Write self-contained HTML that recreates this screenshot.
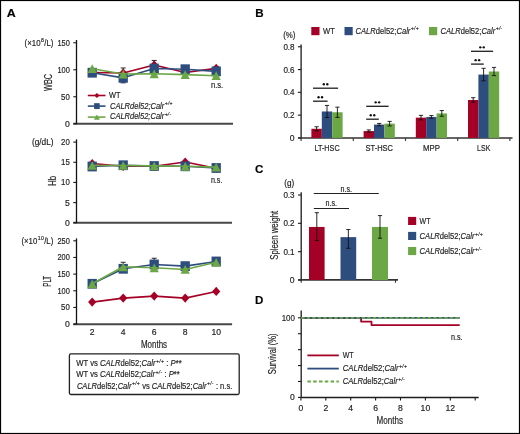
<!DOCTYPE html><html><head><meta charset="utf-8"><style>html,body{margin:0;padding:0;background:#fff}svg{display:block;will-change:transform}text{font-family:"Liberation Sans",sans-serif;stroke:#2a2a2a;stroke-width:0.18px}</style></head><body>
<svg width="520" height="434" viewBox="0 0 520 434">
<rect x="0.00" y="0.00" width="520.00" height="434.00" fill="#fff"/>
<rect x="0.5" y="0.5" width="519" height="433" fill="none" stroke="#000" stroke-width="1.2"/>
<text x="6.8" y="16.8" font-size="11.6" text-anchor="start" font-weight="bold" font-style="normal" fill="#000" textLength="9.0" lengthAdjust="spacingAndGlyphs">A</text>
<text x="255.3" y="16.7" font-size="11.6" text-anchor="start" font-weight="bold" font-style="normal" fill="#000">B</text>
<text x="255.0" y="172.6" font-size="11.6" text-anchor="start" font-weight="bold" font-style="normal" fill="#000">C</text>
<text x="255.0" y="303.8" font-size="11.6" text-anchor="start" font-weight="bold" font-style="normal" fill="#000">D</text>
<line x1="73.3" y1="123.85" x2="233" y2="123.85" stroke="#474747" stroke-width="2.0"/>
<line x1="76.5" y1="40.0" x2="76.5" y2="124.05" stroke="#111" stroke-width="1.3"/>
<line x1="73.3" y1="42.75" x2="76.5" y2="42.75" stroke="#1a1a1a" stroke-width="1.1"/>
<text x="69.8" y="45.75" font-size="8.6" text-anchor="end" font-weight="normal" font-style="normal" fill="#222" textLength="12.4" lengthAdjust="spacingAndGlyphs">150</text>
<line x1="73.3" y1="69.75" x2="76.5" y2="69.75" stroke="#1a1a1a" stroke-width="1.1"/>
<text x="69.8" y="72.75" font-size="8.6" text-anchor="end" font-weight="normal" font-style="normal" fill="#222" textLength="12.4" lengthAdjust="spacingAndGlyphs">100</text>
<line x1="73.3" y1="96.75" x2="76.5" y2="96.75" stroke="#1a1a1a" stroke-width="1.1"/>
<text x="69.8" y="99.75" font-size="8.6" text-anchor="end" font-weight="normal" font-style="normal" fill="#222" textLength="8.7" lengthAdjust="spacingAndGlyphs">50</text>
<line x1="73.3" y1="123.75" x2="76.5" y2="123.75" stroke="#1a1a1a" stroke-width="1.1"/>
<text x="69.8" y="126.75" font-size="8.6" text-anchor="end" font-weight="normal" font-style="normal" fill="#222">0</text>
<text x="24.6" y="45.5" font-size="8.6" text-anchor="start" fill="#222" textLength="28.8" lengthAdjust="spacingAndGlyphs"><tspan font-style="normal">(×10</tspan><tspan font-style="normal" font-size="5.68" dx="0.5" dy="-3.44" letter-spacing="0.35">8</tspan><tspan font-style="normal" dy="3.44">/L)</tspan></text>
<text x="51.55" y="82.4" font-size="10.2" text-anchor="middle" font-weight="normal" font-style="normal" fill="#222" textLength="17" lengthAdjust="spacingAndGlyphs" transform="rotate(-90 51.55 82.4)">WBC</text>
<polyline points="92.20,72.45 123.20,72.99 154.20,65.05 185.20,72.45 216.20,68.40" fill="none" stroke="#A50026" stroke-width="1.6" stroke-linejoin="round"/>
<line x1="123.2" y1="67.99" x2="123.2" y2="74.99" stroke="#111" stroke-width="0.9"/>
<line x1="120.7" y1="67.99" x2="125.7" y2="67.99" stroke="#111" stroke-width="0.9"/>
<line x1="120.7" y1="74.99" x2="125.7" y2="74.99" stroke="#111" stroke-width="0.9"/>
<line x1="154.2" y1="60.45199999999999" x2="154.2" y2="67.05199999999999" stroke="#111" stroke-width="0.9"/>
<line x1="151.7" y1="60.45199999999999" x2="156.7" y2="60.45199999999999" stroke="#111" stroke-width="0.9"/>
<line x1="151.7" y1="67.05199999999999" x2="156.7" y2="67.05199999999999" stroke="#111" stroke-width="0.9"/>
<line x1="216.2" y1="66.4" x2="216.2" y2="70.4" stroke="#111" stroke-width="0.9"/>
<line x1="213.7" y1="66.4" x2="218.7" y2="66.4" stroke="#111" stroke-width="0.9"/>
<line x1="213.7" y1="70.4" x2="218.7" y2="70.4" stroke="#111" stroke-width="0.9"/>
<polygon points="92.20,67.85 96.30,72.45 92.20,77.05 88.10,72.45" fill="#A50026"/>
<polygon points="123.20,68.39 127.30,72.99 123.20,77.59 119.10,72.99" fill="#A50026"/>
<polygon points="154.20,60.45 158.30,65.05 154.20,69.65 150.10,65.05" fill="#A50026"/>
<polygon points="185.20,67.85 189.30,72.45 185.20,77.05 181.10,72.45" fill="#A50026"/>
<polygon points="216.20,63.80 220.30,68.40 216.20,73.00 212.10,68.40" fill="#A50026"/>
<polyline points="92.20,72.72 123.20,77.85 154.20,68.51 185.20,69.21 216.20,71.37" fill="none" stroke="#2E4D7F" stroke-width="1.6" stroke-linejoin="round"/>
<line x1="123.2" y1="75.85" x2="123.2" y2="82.85" stroke="#111" stroke-width="0.9"/>
<line x1="120.7" y1="75.85" x2="125.7" y2="75.85" stroke="#111" stroke-width="0.9"/>
<line x1="120.7" y1="82.85" x2="125.7" y2="82.85" stroke="#111" stroke-width="0.9"/>
<rect x="87.55" y="67.84" width="9.30" height="9.77" fill="#2E4D7F"/>
<rect x="118.55" y="72.97" width="9.30" height="9.77" fill="#2E4D7F"/>
<rect x="149.55" y="63.63" width="9.30" height="9.77" fill="#2E4D7F"/>
<rect x="180.55" y="64.33" width="9.30" height="9.77" fill="#2E4D7F"/>
<rect x="211.55" y="66.49" width="9.30" height="9.77" fill="#2E4D7F"/>
<polyline points="92.20,68.67 123.20,74.07 154.20,73.80 185.20,74.61 216.20,75.69" fill="none" stroke="#6CA745" stroke-width="1.6" stroke-linejoin="round"/>
<polygon points="87.60,73.02 96.80,73.02 92.20,64.32" fill="#6CA745"/>
<polygon points="118.60,78.42 127.80,78.42 123.20,69.72" fill="#6CA745"/>
<polygon points="149.60,78.15 158.80,78.15 154.20,69.45" fill="#6CA745"/>
<polygon points="180.60,78.96 189.80,78.96 185.20,70.26" fill="#6CA745"/>
<polygon points="211.60,80.04 220.80,80.04 216.20,71.34" fill="#6CA745"/>
<line x1="87.8" y1="95.5" x2="105.5" y2="95.5" stroke="#A50026" stroke-width="1.6"/>
<polygon points="96.90,92.90 99.50,95.50 96.90,98.10 94.30,95.50" fill="#A50026"/>
<line x1="87.8" y1="106.1" x2="105.5" y2="106.1" stroke="#2E4D7F" stroke-width="1.6"/>
<rect x="94.10" y="103.16" width="5.60" height="5.88" fill="#2E4D7F"/>
<line x1="87.8" y1="117.1" x2="105.5" y2="117.1" stroke="#6CA745" stroke-width="1.6"/>
<polygon points="93.90,119.70 99.90,119.70 96.90,114.50" fill="#6CA745"/>
<text x="109" y="98.2" font-size="8.6" text-anchor="start" font-weight="normal" font-style="normal" fill="#222" textLength="11.5" lengthAdjust="spacingAndGlyphs">WT</text>
<text x="110" y="108.6" font-size="8.6" text-anchor="start" fill="#222" textLength="62.8" lengthAdjust="spacingAndGlyphs"><tspan font-style="italic">CALRdel52;Calr</tspan><tspan font-style="italic" font-size="5.68" dx="0.5" dy="-3.44" letter-spacing="0.35">+/+</tspan></text>
<text x="110" y="119.0" font-size="8.6" text-anchor="start" fill="#222" textLength="61.5" lengthAdjust="spacingAndGlyphs"><tspan font-style="italic">CALRdel52;Calr</tspan><tspan font-style="italic" font-size="5.68" dx="0.5" dy="-3.44" letter-spacing="0.35">+/-</tspan></text>
<text x="210.9" y="88.2" font-size="8.6" text-anchor="start" font-weight="normal" font-style="normal" fill="#222" textLength="12.3" lengthAdjust="spacingAndGlyphs">n.s.</text>
<line x1="73.3" y1="222.85" x2="232" y2="222.85" stroke="#474747" stroke-width="2.0"/>
<line x1="76.5" y1="139.4" x2="76.5" y2="223.05" stroke="#111" stroke-width="1.3"/>
<line x1="73.3" y1="142.11" x2="76.5" y2="142.11" stroke="#1a1a1a" stroke-width="1.1"/>
<text x="69.8" y="145.11" font-size="8.6" text-anchor="end" font-weight="normal" font-style="normal" fill="#222" textLength="8.7" lengthAdjust="spacingAndGlyphs">20</text>
<line x1="73.3" y1="162.26999999999998" x2="76.5" y2="162.26999999999998" stroke="#1a1a1a" stroke-width="1.1"/>
<text x="69.8" y="165.26999999999998" font-size="8.6" text-anchor="end" font-weight="normal" font-style="normal" fill="#222" textLength="8.7" lengthAdjust="spacingAndGlyphs">15</text>
<line x1="73.3" y1="182.43" x2="76.5" y2="182.43" stroke="#1a1a1a" stroke-width="1.1"/>
<text x="69.8" y="185.43" font-size="8.6" text-anchor="end" font-weight="normal" font-style="normal" fill="#222" textLength="8.7" lengthAdjust="spacingAndGlyphs">10</text>
<line x1="73.3" y1="202.59" x2="76.5" y2="202.59" stroke="#1a1a1a" stroke-width="1.1"/>
<text x="69.8" y="205.59" font-size="8.6" text-anchor="end" font-weight="normal" font-style="normal" fill="#222">5</text>
<line x1="73.3" y1="222.75" x2="76.5" y2="222.75" stroke="#1a1a1a" stroke-width="1.1"/>
<text x="69.8" y="225.75" font-size="8.6" text-anchor="end" font-weight="normal" font-style="normal" fill="#222">0</text>
<text x="31.9" y="144.9" font-size="8.6" text-anchor="start" font-weight="normal" font-style="normal" fill="#222" textLength="21.6" lengthAdjust="spacingAndGlyphs">(g/dL)</text>
<text x="55.8" y="180.9" font-size="10.2" text-anchor="middle" font-weight="normal" font-style="normal" fill="#222" textLength="9.7" lengthAdjust="spacingAndGlyphs" transform="rotate(-90 55.8 180.9)">Hb</text>
<polyline points="92.20,163.48 123.20,166.30 154.20,166.30 185.20,162.03 216.20,168.32" fill="none" stroke="#A50026" stroke-width="1.6" stroke-linejoin="round"/>
<line x1="123.2" y1="165.802" x2="123.2" y2="168.802" stroke="#111" stroke-width="0.9"/>
<line x1="120.7" y1="165.802" x2="125.7" y2="165.802" stroke="#111" stroke-width="0.9"/>
<line x1="120.7" y1="168.802" x2="125.7" y2="168.802" stroke="#111" stroke-width="0.9"/>
<line x1="216.2" y1="168.31799999999998" x2="216.2" y2="171.31799999999998" stroke="#111" stroke-width="0.9"/>
<line x1="213.7" y1="168.31799999999998" x2="218.7" y2="168.31799999999998" stroke="#111" stroke-width="0.9"/>
<line x1="213.7" y1="171.31799999999998" x2="218.7" y2="171.31799999999998" stroke="#111" stroke-width="0.9"/>
<polygon points="92.20,158.88 96.30,163.48 92.20,168.08 88.10,163.48" fill="#A50026"/>
<polygon points="123.20,161.70 127.30,166.30 123.20,170.90 119.10,166.30" fill="#A50026"/>
<polygon points="154.20,161.70 158.30,166.30 154.20,170.90 150.10,166.30" fill="#A50026"/>
<polygon points="185.20,157.43 189.30,162.03 185.20,166.63 181.10,162.03" fill="#A50026"/>
<polygon points="216.20,163.72 220.30,168.32 216.20,172.92 212.10,168.32" fill="#A50026"/>
<polyline points="92.20,166.50 123.20,165.25 154.20,166.02 185.20,166.30 216.20,168.00" fill="none" stroke="#2E4D7F" stroke-width="1.6" stroke-linejoin="round"/>
<rect x="87.55" y="161.62" width="9.30" height="9.77" fill="#2E4D7F"/>
<rect x="118.55" y="160.37" width="9.30" height="9.77" fill="#2E4D7F"/>
<rect x="149.55" y="161.14" width="9.30" height="9.77" fill="#2E4D7F"/>
<rect x="180.55" y="161.42" width="9.30" height="9.77" fill="#2E4D7F"/>
<rect x="211.55" y="163.11" width="9.30" height="9.77" fill="#2E4D7F"/>
<polyline points="92.20,165.50 123.20,165.50 154.20,165.90 185.20,166.30 216.20,167.11" fill="none" stroke="#6CA745" stroke-width="1.6" stroke-linejoin="round"/>
<polygon points="87.60,169.85 96.80,169.85 92.20,161.15" fill="#6CA745"/>
<polygon points="118.60,169.85 127.80,169.85 123.20,161.15" fill="#6CA745"/>
<polygon points="149.60,170.25 158.80,170.25 154.20,161.55" fill="#6CA745"/>
<polygon points="180.60,170.65 189.80,170.65 185.20,161.95" fill="#6CA745"/>
<polygon points="211.60,171.46 220.80,171.46 216.20,162.76" fill="#6CA745"/>
<text x="210.9" y="183.0" font-size="8.6" text-anchor="start" font-weight="normal" font-style="normal" fill="#222" textLength="11.5" lengthAdjust="spacingAndGlyphs">n.s.</text>
<line x1="73.3" y1="324.2" x2="232.1" y2="324.2" stroke="#474747" stroke-width="2.0"/>
<line x1="76.5" y1="238.4" x2="76.5" y2="324.40000000000003" stroke="#111" stroke-width="1.3"/>
<line x1="73.3" y1="240.8" x2="76.5" y2="240.8" stroke="#1a1a1a" stroke-width="1.1"/>
<text x="69.8" y="243.8" font-size="8.6" text-anchor="end" font-weight="normal" font-style="normal" fill="#222" textLength="12.4" lengthAdjust="spacingAndGlyphs">250</text>
<line x1="73.3" y1="257.46000000000004" x2="76.5" y2="257.46000000000004" stroke="#1a1a1a" stroke-width="1.1"/>
<text x="69.8" y="260.46000000000004" font-size="8.6" text-anchor="end" font-weight="normal" font-style="normal" fill="#222" textLength="12.4" lengthAdjust="spacingAndGlyphs">200</text>
<line x1="73.3" y1="274.12" x2="76.5" y2="274.12" stroke="#1a1a1a" stroke-width="1.1"/>
<text x="69.8" y="277.12" font-size="8.6" text-anchor="end" font-weight="normal" font-style="normal" fill="#222" textLength="12.4" lengthAdjust="spacingAndGlyphs">150</text>
<line x1="73.3" y1="290.78000000000003" x2="76.5" y2="290.78000000000003" stroke="#1a1a1a" stroke-width="1.1"/>
<text x="69.8" y="293.78000000000003" font-size="8.6" text-anchor="end" font-weight="normal" font-style="normal" fill="#222" textLength="12.4" lengthAdjust="spacingAndGlyphs">100</text>
<line x1="73.3" y1="307.44" x2="76.5" y2="307.44" stroke="#1a1a1a" stroke-width="1.1"/>
<text x="69.8" y="310.44" font-size="8.6" text-anchor="end" font-weight="normal" font-style="normal" fill="#222" textLength="8.7" lengthAdjust="spacingAndGlyphs">50</text>
<line x1="73.3" y1="324.1" x2="76.5" y2="324.1" stroke="#1a1a1a" stroke-width="1.1"/>
<text x="69.8" y="327.1" font-size="8.6" text-anchor="end" font-weight="normal" font-style="normal" fill="#222">0</text>
<text x="21.4" y="243.5" font-size="8.6" text-anchor="start" fill="#222" textLength="31.9" lengthAdjust="spacingAndGlyphs"><tspan font-style="normal">(×10</tspan><tspan font-style="normal" font-size="5.68" dx="0.5" dy="-3.44" letter-spacing="0.35">10</tspan><tspan font-style="normal" dy="3.44">/L)</tspan></text>
<text x="51.1" y="281.3" font-size="10.2" text-anchor="middle" font-weight="normal" font-style="normal" fill="#222" textLength="10.8" lengthAdjust="spacingAndGlyphs" transform="rotate(-90 51.1 281.3)">PLT</text>
<polyline points="92.20,302.11 123.20,298.11 154.20,296.11 185.20,298.11 216.20,291.45" fill="none" stroke="#A50026" stroke-width="1.6" stroke-linejoin="round"/>
<polygon points="92.20,297.51 96.30,302.11 92.20,306.71 88.10,302.11" fill="#A50026"/>
<polygon points="123.20,293.51 127.30,298.11 123.20,302.71 119.10,298.11" fill="#A50026"/>
<polygon points="154.20,291.51 158.30,296.11 154.20,300.71 150.10,296.11" fill="#A50026"/>
<polygon points="185.20,293.51 189.30,298.11 185.20,302.71 181.10,298.11" fill="#A50026"/>
<polygon points="216.20,286.85 220.30,291.45 216.20,296.05 212.10,291.45" fill="#A50026"/>
<polyline points="92.20,283.78 123.20,268.79 154.20,264.46 185.20,266.12 216.20,261.46" fill="none" stroke="#2E4D7F" stroke-width="1.6" stroke-linejoin="round"/>
<line x1="123.2" y1="262.28880000000004" x2="123.2" y2="268.78880000000004" stroke="#111" stroke-width="0.9"/>
<line x1="120.7" y1="262.28880000000004" x2="125.7" y2="262.28880000000004" stroke="#111" stroke-width="0.9"/>
<line x1="120.7" y1="268.78880000000004" x2="125.7" y2="268.78880000000004" stroke="#111" stroke-width="0.9"/>
<line x1="154.2" y1="258.2572" x2="154.2" y2="264.4572" stroke="#111" stroke-width="0.9"/>
<line x1="151.7" y1="258.2572" x2="156.7" y2="258.2572" stroke="#111" stroke-width="0.9"/>
<line x1="151.7" y1="264.4572" x2="156.7" y2="264.4572" stroke="#111" stroke-width="0.9"/>
<rect x="87.55" y="278.90" width="9.30" height="9.77" fill="#2E4D7F"/>
<rect x="118.55" y="263.91" width="9.30" height="9.77" fill="#2E4D7F"/>
<rect x="149.55" y="259.57" width="9.30" height="9.77" fill="#2E4D7F"/>
<rect x="180.55" y="261.24" width="9.30" height="9.77" fill="#2E4D7F"/>
<rect x="211.55" y="256.58" width="9.30" height="9.77" fill="#2E4D7F"/>
<polyline points="92.20,283.78 123.20,266.79 154.20,267.79 185.20,269.46 216.20,262.29" fill="none" stroke="#6CA745" stroke-width="1.6" stroke-linejoin="round"/>
<polygon points="87.60,288.13 96.80,288.13 92.20,279.43" fill="#6CA745"/>
<polygon points="118.60,271.14 127.80,271.14 123.20,262.44" fill="#6CA745"/>
<polygon points="149.60,272.14 158.80,272.14 154.20,263.44" fill="#6CA745"/>
<polygon points="180.60,273.81 189.80,273.81 185.20,265.11" fill="#6CA745"/>
<polygon points="211.60,266.64 220.80,266.64 216.20,257.94" fill="#6CA745"/>
<text x="92.2" y="334.7" font-size="8.6" text-anchor="middle" font-weight="normal" font-style="normal" fill="#222">2</text>
<text x="123.2" y="334.7" font-size="8.6" text-anchor="middle" font-weight="normal" font-style="normal" fill="#222">4</text>
<text x="154.2" y="334.7" font-size="8.6" text-anchor="middle" font-weight="normal" font-style="normal" fill="#222">6</text>
<text x="185.2" y="334.7" font-size="8.6" text-anchor="middle" font-weight="normal" font-style="normal" fill="#222">8</text>
<text x="216.2" y="334.7" font-size="8.6" text-anchor="middle" font-weight="normal" font-style="normal" fill="#222">10</text>
<text x="140.9" y="348.1" font-size="10.2" text-anchor="start" font-weight="normal" font-style="normal" fill="#222" textLength="26.2" lengthAdjust="spacingAndGlyphs">Months</text>
<rect x="69.4" y="353.9" width="169.8" height="40.6" rx="1.5" fill="none" stroke="#222" stroke-width="1.3"/>
<text x="76.3" y="366.2" font-size="8.6" text-anchor="start" fill="#222" textLength="105.4" lengthAdjust="spacingAndGlyphs"><tspan font-style="normal">WT vs </tspan><tspan font-style="italic">CALR</tspan><tspan font-style="normal">del52;</tspan><tspan font-style="italic">Calr</tspan><tspan font-style="italic" font-size="5.68" dx="0.5" dy="-3.44" letter-spacing="0.35">+/+</tspan><tspan font-style="normal" dy="3.44"> : </tspan><tspan font-style="italic">P</tspan><tspan font-style="normal">**</tspan></text>
<text x="76.3" y="377.3" font-size="8.6" text-anchor="start" fill="#222" textLength="103.5" lengthAdjust="spacingAndGlyphs"><tspan font-style="normal">WT vs </tspan><tspan font-style="italic">CALR</tspan><tspan font-style="normal">del52;</tspan><tspan font-style="italic">Calr</tspan><tspan font-style="italic" font-size="5.68" dx="0.5" dy="-3.44" letter-spacing="0.35">+/-</tspan><tspan font-style="normal" dy="3.44"> : </tspan><tspan font-style="italic">P</tspan><tspan font-style="normal">**</tspan></text>
<text x="76.9" y="388.5" font-size="8.6" text-anchor="start" fill="#222" textLength="155.4" lengthAdjust="spacingAndGlyphs"><tspan font-style="italic">CALR</tspan><tspan font-style="normal">del52;</tspan><tspan font-style="italic">Calr</tspan><tspan font-style="italic" font-size="5.68" dx="0.5" dy="-3.44" letter-spacing="0.35">+/+</tspan><tspan font-style="normal" dy="3.44"> vs </tspan><tspan font-style="italic">CALR</tspan><tspan font-style="normal">del52;</tspan><tspan font-style="italic">Calr</tspan><tspan font-style="italic" font-size="5.68" dx="0.5" dy="-3.44" letter-spacing="0.35">+/-</tspan><tspan font-style="normal" dy="3.44"> : n.s.</tspan></text>
<rect x="311.30" y="27.00" width="8.20" height="8.20" fill="#A50026"/>
<text x="323" y="33.9" font-size="8.6" text-anchor="start" font-weight="normal" font-style="normal" fill="#222" textLength="11.8" lengthAdjust="spacingAndGlyphs">WT</text>
<rect x="344.50" y="27.00" width="8.20" height="8.20" fill="#2E4D7F"/>
<text x="355.5" y="33.9" font-size="8.6" text-anchor="start" fill="#222" textLength="63.5" lengthAdjust="spacingAndGlyphs"><tspan font-style="italic">CALR</tspan><tspan font-style="normal">del52;</tspan><tspan font-style="italic">Calr</tspan><tspan font-style="italic" font-size="5.68" dx="0.5" dy="-3.44" letter-spacing="0.35">+/+</tspan></text>
<rect x="429.00" y="27.00" width="8.20" height="8.20" fill="#6CA745"/>
<text x="440.6" y="33.9" font-size="8.6" text-anchor="start" fill="#222" textLength="62" lengthAdjust="spacingAndGlyphs"><tspan font-style="italic">CALR</tspan><tspan font-style="normal">del52;</tspan><tspan font-style="italic">Calr</tspan><tspan font-style="italic" font-size="5.68" dx="0.5" dy="-3.44" letter-spacing="0.35">+/-</tspan></text>
<text x="283.2" y="37.6" font-size="8.6" text-anchor="start" font-weight="normal" font-style="normal" fill="#222" textLength="12.3" lengthAdjust="spacingAndGlyphs">(%)</text>
<line x1="301.1" y1="44.6" x2="301.1" y2="138.6" stroke="#1a1a1a" stroke-width="1.3"/>
<line x1="297.90000000000003" y1="46.78" x2="301.1" y2="46.78" stroke="#1a1a1a" stroke-width="1.1"/>
<text x="294.6" y="49.78" font-size="8.6" text-anchor="end" font-weight="normal" font-style="normal" fill="#222" textLength="11.2" lengthAdjust="spacingAndGlyphs">0.8</text>
<line x1="297.90000000000003" y1="69.56" x2="301.1" y2="69.56" stroke="#1a1a1a" stroke-width="1.1"/>
<text x="294.6" y="72.56" font-size="8.6" text-anchor="end" font-weight="normal" font-style="normal" fill="#222" textLength="11.2" lengthAdjust="spacingAndGlyphs">0.6</text>
<line x1="297.90000000000003" y1="92.34" x2="301.1" y2="92.34" stroke="#1a1a1a" stroke-width="1.1"/>
<text x="294.6" y="95.34" font-size="8.6" text-anchor="end" font-weight="normal" font-style="normal" fill="#222" textLength="11.2" lengthAdjust="spacingAndGlyphs">0.4</text>
<line x1="297.90000000000003" y1="115.12" x2="301.1" y2="115.12" stroke="#1a1a1a" stroke-width="1.1"/>
<text x="294.6" y="118.12" font-size="8.6" text-anchor="end" font-weight="normal" font-style="normal" fill="#222" textLength="11.2" lengthAdjust="spacingAndGlyphs">0.2</text>
<line x1="297.90000000000003" y1="137.9" x2="301.1" y2="137.9" stroke="#1a1a1a" stroke-width="1.1"/>
<text x="294.6" y="140.9" font-size="8.6" text-anchor="end" font-weight="normal" font-style="normal" fill="#222">0</text>
<line x1="298.1" y1="138.0" x2="512.5" y2="138.0" stroke="#333" stroke-width="1.6"/>
<line x1="301.1" y1="138.0" x2="301.1" y2="140.9" stroke="#333" stroke-width="1.1"/>
<line x1="353.3" y1="138.0" x2="353.3" y2="140.9" stroke="#333" stroke-width="1.1"/>
<line x1="405.5" y1="138.0" x2="405.5" y2="140.9" stroke="#333" stroke-width="1.1"/>
<line x1="457.70000000000005" y1="138.0" x2="457.70000000000005" y2="140.9" stroke="#333" stroke-width="1.1"/>
<line x1="509.90000000000003" y1="138.0" x2="509.90000000000003" y2="140.9" stroke="#333" stroke-width="1.1"/>
<rect x="311.40" y="128.79" width="10.40" height="9.11" fill="#A50026"/>
<rect x="321.80" y="111.48" width="10.40" height="26.42" fill="#2E4D7F"/>
<rect x="332.20" y="112.27" width="10.40" height="25.63" fill="#6CA745"/>
<line x1="316.6" y1="126.73780000000001" x2="316.6" y2="130.8382" stroke="#111" stroke-width="0.9"/>
<line x1="314.5" y1="126.73780000000001" x2="318.70000000000005" y2="126.73780000000001" stroke="#111" stroke-width="0.9"/>
<line x1="314.5" y1="130.8382" x2="318.70000000000005" y2="130.8382" stroke="#111" stroke-width="0.9"/>
<line x1="327.0" y1="105.4385" x2="327.0" y2="117.5119" stroke="#111" stroke-width="0.9"/>
<line x1="324.9" y1="105.4385" x2="329.1" y2="105.4385" stroke="#111" stroke-width="0.9"/>
<line x1="324.9" y1="117.5119" x2="329.1" y2="117.5119" stroke="#111" stroke-width="0.9"/>
<line x1="337.40000000000003" y1="107.147" x2="337.40000000000003" y2="117.39800000000001" stroke="#111" stroke-width="0.9"/>
<line x1="335.3" y1="107.147" x2="339.50000000000006" y2="107.147" stroke="#111" stroke-width="0.9"/>
<line x1="335.3" y1="117.39800000000001" x2="339.50000000000006" y2="117.39800000000001" stroke="#111" stroke-width="0.9"/>
<rect x="363.60" y="131.07" width="10.40" height="6.83" fill="#A50026"/>
<rect x="374.00" y="124.57" width="10.40" height="13.33" fill="#2E4D7F"/>
<rect x="384.40" y="123.66" width="10.40" height="14.24" fill="#6CA745"/>
<line x1="368.8" y1="129.927" x2="368.8" y2="132.205" stroke="#111" stroke-width="0.9"/>
<line x1="366.7" y1="129.927" x2="370.90000000000003" y2="129.927" stroke="#111" stroke-width="0.9"/>
<line x1="366.7" y1="132.205" x2="370.90000000000003" y2="132.205" stroke="#111" stroke-width="0.9"/>
<line x1="379.2" y1="123.4347" x2="379.2" y2="125.7127" stroke="#111" stroke-width="0.9"/>
<line x1="377.09999999999997" y1="123.4347" x2="381.3" y2="123.4347" stroke="#111" stroke-width="0.9"/>
<line x1="377.09999999999997" y1="125.7127" x2="381.3" y2="125.7127" stroke="#111" stroke-width="0.9"/>
<line x1="389.6" y1="121.3845" x2="389.6" y2="125.9405" stroke="#111" stroke-width="0.9"/>
<line x1="387.5" y1="121.3845" x2="391.70000000000005" y2="121.3845" stroke="#111" stroke-width="0.9"/>
<line x1="387.5" y1="125.9405" x2="391.70000000000005" y2="125.9405" stroke="#111" stroke-width="0.9"/>
<rect x="415.80" y="117.63" width="10.40" height="20.27" fill="#A50026"/>
<rect x="426.20" y="116.94" width="10.40" height="20.96" fill="#2E4D7F"/>
<rect x="436.60" y="113.41" width="10.40" height="24.49" fill="#6CA745"/>
<line x1="421.0" y1="115.3478" x2="421.0" y2="119.9038" stroke="#111" stroke-width="0.9"/>
<line x1="418.9" y1="115.3478" x2="423.1" y2="115.3478" stroke="#111" stroke-width="0.9"/>
<line x1="418.9" y1="119.9038" x2="423.1" y2="119.9038" stroke="#111" stroke-width="0.9"/>
<line x1="431.4" y1="115.57560000000001" x2="431.4" y2="118.3092" stroke="#111" stroke-width="0.9"/>
<line x1="429.29999999999995" y1="115.57560000000001" x2="433.5" y2="115.57560000000001" stroke="#111" stroke-width="0.9"/>
<line x1="429.29999999999995" y1="118.3092" x2="433.5" y2="118.3092" stroke="#111" stroke-width="0.9"/>
<line x1="441.8" y1="110.56400000000001" x2="441.8" y2="116.259" stroke="#111" stroke-width="0.9"/>
<line x1="439.7" y1="110.56400000000001" x2="443.90000000000003" y2="110.56400000000001" stroke="#111" stroke-width="0.9"/>
<line x1="439.7" y1="116.259" x2="443.90000000000003" y2="116.259" stroke="#111" stroke-width="0.9"/>
<rect x="468.00" y="99.97" width="10.40" height="37.93" fill="#A50026"/>
<rect x="478.40" y="74.57" width="10.40" height="63.33" fill="#2E4D7F"/>
<rect x="488.80" y="71.50" width="10.40" height="66.40" fill="#6CA745"/>
<line x1="473.20000000000005" y1="97.6933" x2="473.20000000000005" y2="102.2493" stroke="#111" stroke-width="0.9"/>
<line x1="471.1" y1="97.6933" x2="475.30000000000007" y2="97.6933" stroke="#111" stroke-width="0.9"/>
<line x1="471.1" y1="102.2493" x2="475.30000000000007" y2="102.2493" stroke="#111" stroke-width="0.9"/>
<line x1="483.6" y1="68.30709999999999" x2="483.6" y2="80.8361" stroke="#111" stroke-width="0.9"/>
<line x1="481.5" y1="68.30709999999999" x2="485.70000000000005" y2="68.30709999999999" stroke="#111" stroke-width="0.9"/>
<line x1="481.5" y1="80.8361" x2="485.70000000000005" y2="80.8361" stroke="#111" stroke-width="0.9"/>
<line x1="494.00000000000006" y1="67.3959" x2="494.00000000000006" y2="75.59670000000001" stroke="#111" stroke-width="0.9"/>
<line x1="491.90000000000003" y1="67.3959" x2="496.1000000000001" y2="67.3959" stroke="#111" stroke-width="0.9"/>
<line x1="491.90000000000003" y1="75.59670000000001" x2="496.1000000000001" y2="75.59670000000001" stroke="#111" stroke-width="0.9"/>
<line x1="313" y1="101.2" x2="327.6" y2="101.2" stroke="#1e1e1e" stroke-width="1.3"/>
<circle cx="318.55" cy="97.25" r="1.2" fill="#111"/>
<circle cx="322.05" cy="97.25" r="1.2" fill="#111"/>
<line x1="313" y1="88.2" x2="338.1" y2="88.2" stroke="#1e1e1e" stroke-width="1.3"/>
<circle cx="323.80" cy="84.25" r="1.2" fill="#111"/>
<circle cx="327.30" cy="84.25" r="1.2" fill="#111"/>
<line x1="366.2" y1="119.2" x2="378.8" y2="119.2" stroke="#1e1e1e" stroke-width="1.3"/>
<circle cx="370.75" cy="115.25" r="1.2" fill="#111"/>
<circle cx="374.25" cy="115.25" r="1.2" fill="#111"/>
<line x1="366.2" y1="106.3" x2="388.6" y2="106.3" stroke="#1e1e1e" stroke-width="1.3"/>
<circle cx="375.65" cy="102.35" r="1.2" fill="#111"/>
<circle cx="379.15" cy="102.35" r="1.2" fill="#111"/>
<line x1="471" y1="64.1" x2="483.8" y2="64.1" stroke="#1e1e1e" stroke-width="1.3"/>
<circle cx="475.65" cy="60.15" r="1.2" fill="#111"/>
<circle cx="479.15" cy="60.15" r="1.2" fill="#111"/>
<line x1="471" y1="51.3" x2="493.1" y2="51.3" stroke="#1e1e1e" stroke-width="1.3"/>
<circle cx="480.30" cy="47.35" r="1.2" fill="#111"/>
<circle cx="483.80" cy="47.35" r="1.2" fill="#111"/>
<text x="314.4" y="151.0" font-size="8.6" text-anchor="start" font-weight="normal" font-style="normal" fill="#222" textLength="25.3" lengthAdjust="spacingAndGlyphs">LT-HSC</text>
<text x="365.5" y="151.0" font-size="8.6" text-anchor="start" font-weight="normal" font-style="normal" fill="#222" textLength="27.5" lengthAdjust="spacingAndGlyphs">ST-HSC</text>
<text x="423" y="151.0" font-size="8.6" text-anchor="start" font-weight="normal" font-style="normal" fill="#222" textLength="16.9" lengthAdjust="spacingAndGlyphs">MPP</text>
<text x="477.1" y="151.0" font-size="8.6" text-anchor="start" font-weight="normal" font-style="normal" fill="#222" textLength="13.2" lengthAdjust="spacingAndGlyphs">LSK</text>
<text x="284.2" y="186.0" font-size="8.6" text-anchor="start" font-weight="normal" font-style="normal" fill="#222" textLength="10" lengthAdjust="spacingAndGlyphs">(g)</text>
<line x1="301.2" y1="192.3" x2="301.2" y2="280.9" stroke="#1a1a1a" stroke-width="1.3"/>
<line x1="298.0" y1="195.01" x2="301.2" y2="195.01" stroke="#1a1a1a" stroke-width="1.1"/>
<text x="294.6" y="198.01" font-size="8.6" text-anchor="end" font-weight="normal" font-style="normal" fill="#222" textLength="11.2" lengthAdjust="spacingAndGlyphs">0.3</text>
<line x1="298.0" y1="223.34" x2="301.2" y2="223.34" stroke="#1a1a1a" stroke-width="1.1"/>
<text x="294.6" y="226.34" font-size="8.6" text-anchor="end" font-weight="normal" font-style="normal" fill="#222" textLength="11.2" lengthAdjust="spacingAndGlyphs">0.2</text>
<line x1="298.0" y1="251.67" x2="301.2" y2="251.67" stroke="#1a1a1a" stroke-width="1.1"/>
<text x="294.6" y="254.67" font-size="8.6" text-anchor="end" font-weight="normal" font-style="normal" fill="#222" textLength="11.2" lengthAdjust="spacingAndGlyphs">0.1</text>
<line x1="298.0" y1="280.0" x2="301.2" y2="280.0" stroke="#1a1a1a" stroke-width="1.1"/>
<text x="294.6" y="283.0" font-size="8.6" text-anchor="end" font-weight="normal" font-style="normal" fill="#222">0</text>
<line x1="298.2" y1="279.9" x2="398" y2="279.9" stroke="#333" stroke-width="1.6"/>
<line x1="301.2" y1="279.9" x2="301.2" y2="282.8" stroke="#333" stroke-width="1.1"/>
<line x1="395.5" y1="279.9" x2="395.5" y2="282.8" stroke="#333" stroke-width="1.1"/>
<rect x="309.00" y="226.94" width="15.60" height="53.06" fill="#A50026"/>
<line x1="316.8" y1="212.7" x2="316.8" y2="240.5" stroke="#111" stroke-width="0.9"/>
<line x1="314.7" y1="212.7" x2="318.90000000000003" y2="212.7" stroke="#111" stroke-width="0.9"/>
<line x1="314.7" y1="240.5" x2="318.90000000000003" y2="240.5" stroke="#111" stroke-width="0.9"/>
<rect x="340.50" y="237.14" width="15.70" height="42.86" fill="#2E4D7F"/>
<line x1="348.35" y1="229.5" x2="348.35" y2="248.3" stroke="#111" stroke-width="0.9"/>
<line x1="346.25" y1="229.5" x2="350.45000000000005" y2="229.5" stroke="#111" stroke-width="0.9"/>
<line x1="346.25" y1="248.3" x2="350.45000000000005" y2="248.3" stroke="#111" stroke-width="0.9"/>
<rect x="372.00" y="226.94" width="16.00" height="53.06" fill="#6CA745"/>
<line x1="380.0" y1="215.6" x2="380.0" y2="238.2" stroke="#111" stroke-width="0.9"/>
<line x1="377.9" y1="215.6" x2="382.1" y2="215.6" stroke="#111" stroke-width="0.9"/>
<line x1="377.9" y1="238.2" x2="382.1" y2="238.2" stroke="#111" stroke-width="0.9"/>
<line x1="313.8" y1="193.5" x2="378.8" y2="193.5" stroke="#222" stroke-width="1.2"/>
<text x="346.2" y="191.5" font-size="8.6" text-anchor="middle" font-weight="normal" font-style="normal" fill="#222" textLength="11.5" lengthAdjust="spacingAndGlyphs">n.s.</text>
<line x1="313.8" y1="208.5" x2="349" y2="208.5" stroke="#222" stroke-width="1.2"/>
<text x="331.3" y="206.0" font-size="8.6" text-anchor="middle" font-weight="normal" font-style="normal" fill="#222" textLength="11.5" lengthAdjust="spacingAndGlyphs">n.s.</text>
<text x="278.0" y="235.3" font-size="10.2" text-anchor="middle" font-weight="normal" font-style="normal" fill="#222" textLength="49" lengthAdjust="spacingAndGlyphs" transform="rotate(-90 278.0 235.3)">Spleen weight</text>
<rect x="408.10" y="216.90" width="8.10" height="8.10" fill="#A50026"/>
<text x="419.6" y="224" font-size="8.6" text-anchor="start" font-weight="normal" font-style="normal" fill="#222" textLength="10.9" lengthAdjust="spacingAndGlyphs">WT</text>
<rect x="408.10" y="231.90" width="8.10" height="8.10" fill="#2E4D7F"/>
<text x="419.6" y="239" font-size="8.6" text-anchor="start" fill="#222" textLength="63.5" lengthAdjust="spacingAndGlyphs"><tspan font-style="italic">CALR</tspan><tspan font-style="normal">del52;</tspan><tspan font-style="italic">Calr</tspan><tspan font-style="italic" font-size="5.68" dx="0.5" dy="-3.44" letter-spacing="0.35">+/+</tspan></text>
<rect x="408.10" y="247.00" width="8.10" height="8.10" fill="#6CA745"/>
<text x="419.6" y="254.1" font-size="8.6" text-anchor="start" fill="#222" textLength="62.4" lengthAdjust="spacingAndGlyphs"><tspan font-style="italic">CALR</tspan><tspan font-style="normal">del52;</tspan><tspan font-style="italic">Calr</tspan><tspan font-style="italic" font-size="5.68" dx="0.5" dy="-3.44" letter-spacing="0.35">+/-</tspan></text>
<line x1="301.2" y1="310.4" x2="301.2" y2="397.8" stroke="#1a1a1a" stroke-width="1.3"/>
<line x1="298.0" y1="317.79999999999995" x2="301.2" y2="317.79999999999995" stroke="#1a1a1a" stroke-width="1.1"/>
<line x1="298.0" y1="333.71999999999997" x2="301.2" y2="333.71999999999997" stroke="#1a1a1a" stroke-width="1.1"/>
<line x1="298.0" y1="349.64" x2="301.2" y2="349.64" stroke="#1a1a1a" stroke-width="1.1"/>
<line x1="298.0" y1="365.55999999999995" x2="301.2" y2="365.55999999999995" stroke="#1a1a1a" stroke-width="1.1"/>
<line x1="298.0" y1="381.47999999999996" x2="301.2" y2="381.47999999999996" stroke="#1a1a1a" stroke-width="1.1"/>
<line x1="298.0" y1="397.4" x2="301.2" y2="397.4" stroke="#1a1a1a" stroke-width="1.1"/>
<text x="294.9" y="320.8" font-size="8.6" text-anchor="end" font-weight="normal" font-style="normal" fill="#222" textLength="13.2" lengthAdjust="spacingAndGlyphs">100</text>
<text x="294.8" y="399.9" font-size="8.6" text-anchor="end" font-weight="normal" font-style="normal" fill="#222">0</text>
<line x1="301.2" y1="397.5" x2="478.7" y2="397.5" stroke="#1e1e1e" stroke-width="1.6"/>
<line x1="300.9" y1="397.5" x2="300.9" y2="400.5" stroke="#1a1a1a" stroke-width="1.1"/>
<text x="300.9" y="410.7" font-size="8.6" text-anchor="middle" font-weight="normal" font-style="normal" fill="#222">0</text>
<line x1="325.79999999999995" y1="397.5" x2="325.79999999999995" y2="400.5" stroke="#1a1a1a" stroke-width="1.1"/>
<text x="325.79999999999995" y="410.7" font-size="8.6" text-anchor="middle" font-weight="normal" font-style="normal" fill="#222">2</text>
<line x1="350.7" y1="397.5" x2="350.7" y2="400.5" stroke="#1a1a1a" stroke-width="1.1"/>
<text x="350.7" y="410.7" font-size="8.6" text-anchor="middle" font-weight="normal" font-style="normal" fill="#222">4</text>
<line x1="375.59999999999997" y1="397.5" x2="375.59999999999997" y2="400.5" stroke="#1a1a1a" stroke-width="1.1"/>
<text x="375.59999999999997" y="410.7" font-size="8.6" text-anchor="middle" font-weight="normal" font-style="normal" fill="#222">6</text>
<line x1="400.5" y1="397.5" x2="400.5" y2="400.5" stroke="#1a1a1a" stroke-width="1.1"/>
<text x="400.5" y="410.7" font-size="8.6" text-anchor="middle" font-weight="normal" font-style="normal" fill="#222">8</text>
<line x1="425.4" y1="397.5" x2="425.4" y2="400.5" stroke="#1a1a1a" stroke-width="1.1"/>
<text x="425.4" y="410.7" font-size="8.6" text-anchor="middle" font-weight="normal" font-style="normal" fill="#222">10</text>
<line x1="450.29999999999995" y1="397.5" x2="450.29999999999995" y2="400.5" stroke="#1a1a1a" stroke-width="1.1"/>
<text x="450.29999999999995" y="410.7" font-size="8.6" text-anchor="middle" font-weight="normal" font-style="normal" fill="#222">12</text>
<line x1="475.19999999999993" y1="397.5" x2="475.19999999999993" y2="400.5" stroke="#1a1a1a" stroke-width="1.1"/>
<text x="376.6" y="424.2" font-size="10.2" text-anchor="start" font-weight="normal" font-style="normal" fill="#222" textLength="26.4" lengthAdjust="spacingAndGlyphs">Months</text>
<text x="276.2" y="353.8" font-size="10.2" text-anchor="middle" font-weight="normal" font-style="normal" fill="#222" textLength="40.7" lengthAdjust="spacingAndGlyphs" transform="rotate(-90 276.2 353.8)">Survival (%)</text>
<polyline points="301.20,317.90 361.10,317.90 361.10,321.60 371.50,321.60 371.50,325.10 459.70,325.10" fill="none" stroke="#A50026" stroke-width="1.8" stroke-linejoin="round" stroke-linejoin="miter"/>
<line x1="301.2" y1="317.9" x2="459.7" y2="317.9" stroke="#2E4D7F" stroke-width="1.8"/>
<line x1="301.2" y1="317.9" x2="459.7" y2="317.9" stroke="#6CA745" stroke-width="1.8" stroke-dasharray="3.5 2"/>
<text x="450.9" y="339.7" font-size="8.6" text-anchor="start" font-weight="normal" font-style="normal" fill="#222" textLength="11.6" lengthAdjust="spacingAndGlyphs">n.s.</text>
<line x1="307.4" y1="355.4" x2="338.8" y2="355.4" stroke="#A50026" stroke-width="1.8"/>
<line x1="307.4" y1="368.6" x2="338.8" y2="368.6" stroke="#2E4D7F" stroke-width="1.8"/>
<line x1="307.4" y1="381.5" x2="338.8" y2="381.5" stroke="#6CA745" stroke-width="1.8" stroke-dasharray="3.5 2.3"/>
<text x="342.7" y="357.9" font-size="8.6" text-anchor="start" font-weight="normal" font-style="normal" fill="#222" textLength="11" lengthAdjust="spacingAndGlyphs">WT</text>
<text x="342.7" y="371.1" font-size="8.6" text-anchor="start" fill="#222" textLength="64.7" lengthAdjust="spacingAndGlyphs"><tspan font-style="italic">CALR</tspan><tspan font-style="normal">del52;</tspan><tspan font-style="italic">Calr</tspan><tspan font-style="italic" font-size="5.68" dx="0.5" dy="-3.44" letter-spacing="0.35">+/+</tspan></text>
<text x="342.7" y="384.1" font-size="8.6" text-anchor="start" fill="#222" textLength="62.4" lengthAdjust="spacingAndGlyphs"><tspan font-style="italic">CALR</tspan><tspan font-style="normal">del52;</tspan><tspan font-style="italic">Calr</tspan><tspan font-style="italic" font-size="5.68" dx="0.5" dy="-3.44" letter-spacing="0.35">+/-</tspan></text>
</svg></body></html>
